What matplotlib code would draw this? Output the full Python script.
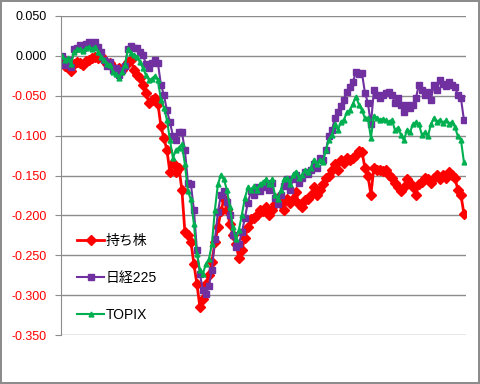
import matplotlib
matplotlib.use("Agg")
import matplotlib.pyplot as plt
import numpy as np

plt.rcParams['font.family'] = ['Liberation Sans', 'Noto Sans CJK JP', 'DejaVu Sans']

labels = ['持ち株', '日経225', 'TOPIX']

mochikabu = [-0.003, -0.013, -0.009, -0.019, -0.010, -0.008, -0.009, -0.011, -0.006, -0.005,
             -0.003, -0.001, -0.003, 0.000, -0.005, -0.010, -0.009, -0.014, -0.018, -0.015,
             -0.018, -0.013, -0.008, -0.005, -0.018, -0.024, -0.028, -0.036, -0.046, -0.059,
             -0.055, -0.053, -0.060, -0.088, -0.103, -0.118, -0.146, -0.134, -0.145, -0.140,
             -0.168, -0.221, -0.224, -0.233, -0.261, -0.286, -0.315, -0.305, -0.286, -0.275,
             -0.258, -0.234, -0.215, -0.195, -0.180, -0.193, -0.211, -0.224, -0.236, -0.253,
             -0.243, -0.228, -0.215, -0.205, -0.203, -0.199, -0.193, -0.195, -0.190, -0.199,
             -0.193, -0.186, -0.178, -0.186, -0.193, -0.180, -0.185, -0.180, -0.171, -0.186,
             -0.190, -0.181, -0.180, -0.174, -0.164, -0.174, -0.168, -0.161, -0.153, -0.150,
             -0.143, -0.136, -0.143, -0.130, -0.134, -0.128, -0.130, -0.128, -0.124, -0.119,
             -0.120, -0.140, -0.150, -0.174, -0.140, -0.143, -0.143, -0.144, -0.143, -0.149,
             -0.153, -0.159, -0.165, -0.170, -0.164, -0.155, -0.159, -0.165, -0.174, -0.161,
             -0.158, -0.153, -0.155, -0.159, -0.153, -0.149, -0.155, -0.149, -0.153, -0.145,
             -0.149, -0.153, -0.168, -0.174, -0.198]

nikkei = [0.000, -0.011, -0.005, -0.014, 0.008, 0.010, 0.014, 0.010, 0.015, 0.018,
          0.013, 0.018, 0.011, 0.005, -0.005, -0.013, -0.008, -0.018, -0.015, -0.024,
          -0.018, -0.013, 0.009, 0.013, 0.010, 0.010, 0.005, 0.001, -0.010, -0.015,
          -0.009, -0.005, -0.009, -0.036, -0.049, -0.068, -0.083, -0.100, -0.105, -0.096,
          -0.096, -0.118, -0.159, -0.161, -0.193, -0.243, -0.274, -0.293, -0.299, -0.289,
          -0.268, -0.230, -0.196, -0.174, -0.170, -0.183, -0.199, -0.224, -0.240, -0.236,
          -0.221, -0.203, -0.184, -0.170, -0.174, -0.165, -0.170, -0.165, -0.161, -0.168,
          -0.160, -0.178, -0.186, -0.175, -0.163, -0.155, -0.168, -0.155, -0.149, -0.159,
          -0.153, -0.145, -0.148, -0.143, -0.136, -0.140, -0.128, -0.130, -0.118, -0.101,
          -0.093, -0.078, -0.071, -0.063, -0.055, -0.045, -0.039, -0.033, -0.020, -0.023,
          -0.021, -0.046, -0.059, -0.086, -0.043, -0.049, -0.053, -0.049, -0.046, -0.045,
          -0.049, -0.059, -0.053, -0.061, -0.070, -0.061, -0.065, -0.061, -0.053, -0.036,
          -0.043, -0.049, -0.045, -0.055, -0.036, -0.043, -0.030, -0.035, -0.038, -0.033,
          -0.036, -0.039, -0.049, -0.053, -0.080]

topix = [0.000, -0.005, -0.003, -0.010, 0.005, 0.008, 0.008, 0.006, 0.010, 0.011,
         0.008, 0.011, 0.005, -0.001, -0.005, -0.010, -0.011, -0.020, -0.023, -0.028,
         -0.020, -0.011, 0.008, 0.004, 0.001, -0.001, -0.008, -0.015, -0.024, -0.030,
         -0.029, -0.025, -0.030, -0.055, -0.065, -0.080, -0.105, -0.128, -0.118, -0.115,
         -0.111, -0.136, -0.170, -0.180, -0.211, -0.249, -0.268, -0.273, -0.261, -0.255,
         -0.236, -0.193, -0.161, -0.149, -0.155, -0.168, -0.189, -0.215, -0.230, -0.218,
         -0.199, -0.178, -0.165, -0.168, -0.163, -0.168, -0.161, -0.158, -0.155, -0.161,
         -0.155, -0.174, -0.180, -0.168, -0.155, -0.153, -0.161, -0.149, -0.145, -0.153,
         -0.149, -0.143, -0.145, -0.140, -0.130, -0.136, -0.130, -0.133, -0.118, -0.105,
         -0.099, -0.086, -0.093, -0.083, -0.080, -0.071, -0.068, -0.060, -0.051, -0.061,
         -0.068, -0.078, -0.078, -0.103, -0.075, -0.078, -0.080, -0.079, -0.081, -0.083,
         -0.080, -0.093, -0.090, -0.099, -0.106, -0.093, -0.096, -0.086, -0.083, -0.086,
         -0.099, -0.096, -0.101, -0.086, -0.078, -0.083, -0.080, -0.084, -0.081, -0.085,
         -0.083, -0.089, -0.101, -0.105, -0.133]

yticks = [0.05, 0.0, -0.05, -0.10, -0.15, -0.20, -0.25, -0.30, -0.35]

fig = plt.figure(figsize=(4.8, 3.84), dpi=100)
fig.patch.set_facecolor('white')
fig.patch.set_edgecolor('#8c8c8c')
fig.patch.set_linewidth(1.5)
ax = fig.add_axes([61/480, 1-335/384, 405/480, 319/384])

x = np.arange(len(mochikabu))
ax.plot(x, mochikabu, color='#FF0000', lw=2.0, marker='D', ms=5, mec='#FF0000', mfc='#FF0000', label=labels[0])
ax.plot(x, nikkei, color='#7030A0', lw=1.5, marker='s', ms=3.8, mec='#7030A0', mfc='#7030A0', label=labels[1])
ax.plot(x, topix, color='#00B050', lw=1.5, marker='^', ms=3.5, mec='#00B050', mfc='#00B050', label=labels[2])

ax.set_ylim(-0.35, 0.05)
ax.set_xlim(-0.3, len(x) - 0.3)
ax.set_yticks(yticks)
ax.set_yticklabels([f"{v:.3f}" for v in yticks], fontsize=9)
for lab, v in zip(ax.get_yticklabels(), yticks):
    lab.set_color('#FF0000' if v < 0 else 'black')
ax.set_xticks([])
ax.grid(axis='y', color='#8c8c8c', lw=1.0)
ax.set_axisbelow(True)
for s in ['top', 'right', 'bottom']:
    ax.spines[s].set_visible(False)
ax.spines['left'].set_color('#8c8c8c')
ax.tick_params(axis='y', length=4, color='#8c8c8c', pad=6)

ax.legend(loc='upper left', bbox_to_anchor=(0.025, 0.335), frameon=False,
          fontsize=10, labelspacing=1.65, handlelength=2.0, handletextpad=0.1,
          borderaxespad=0)

fig.savefig('out.png', dpi=100)
